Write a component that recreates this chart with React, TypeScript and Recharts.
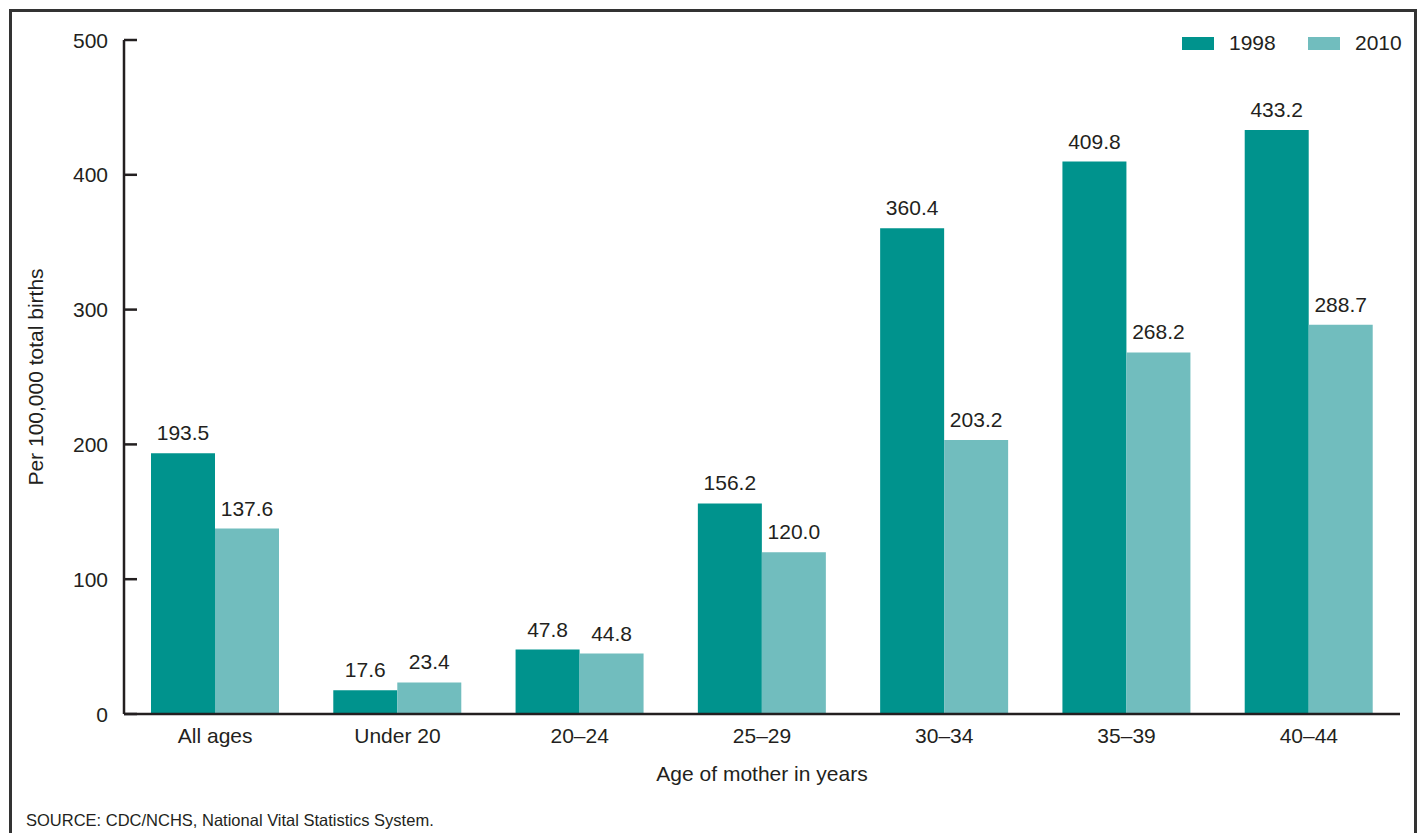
import React from "react";
import { BarChart, Bar, XAxis, YAxis, LabelList, Legend, Label } from "recharts";

const categories = ["All ages", "Under 20", "20–24", "25–29", "30–34", "35–39", "40–44"];
const values1998 = [193.5, 17.6, 47.8, 156.2, 360.4, 409.8, 433.2];
const values2010 = [137.6, 23.4, 44.8, 120.0, 203.2, 268.2, 288.7];
const seriesNames = ["1998", "2010"];
const seriesColors = ["#00938D", "#71BDBE"];
const yTicks = [0, 100, 200, 300, 400, 500];

const data = categories.map((c, i) => ({ cat: c, s1998: values1998[i], s2010: values2010[i] }));

const TEXT = "#231F20";
const FONT = "'Liberation Sans', Arial, Helvetica, sans-serif";

const YTick = (props: any) => {
  const { x, y, payload } = props;
  return (
    <g>
      <line x1={x} x2={x + 13} y1={y} y2={y} stroke={TEXT} strokeWidth={2.5} />
      <text x={x - 16} y={y} dy="0.36em" textAnchor="end" fontSize={21} fill={TEXT} fontFamily={FONT}>
        {payload.value}
      </text>
    </g>
  );
};

const LegendContent = () => (
  <div style={{ display: "flex", alignItems: "center", fontFamily: FONT, fontSize: 21, color: TEXT }}>
    {seriesNames.map((n, i) => (
      <div key={n} style={{ display: "flex", alignItems: "center", width: 126 }}>
        <div style={{ width: 32, height: 13, background: seriesColors[i], marginRight: 15 }} />
        <span style={{ lineHeight: "24px" }}>{n}</span>
      </div>
    ))}
  </div>
);

const fmt = (v: any) => Number(v).toFixed(1);

export default function App() {
  return (
    <div style={{ position: "absolute", left: 0, top: 0, width: 1419, height: 833, background: "#fff", overflow: "hidden", fontFamily: FONT }}>
      <div style={{ position: "absolute", left: 9, top: 9, width: 1402, height: 900, border: "3px solid #333" }} />
      <div style={{ position: "absolute", left: 0, top: 0 }}>
        <BarChart
          width={1419}
          height={833}
          data={data}
          margin={{ top: 40, right: 19, bottom: 89, left: 64 }}
          barCategoryGap={27}
          barGap={0}
        >
          <XAxis
            dataKey="cat"
            axisLine={{ stroke: TEXT, strokeWidth: 2.5 }}
            tickLine={false}
            tickSize={0}
            tickMargin={14}
            tick={{ fontSize: 21, fill: TEXT, fontFamily: FONT }}
            height={30}
          >
            <Label
              value="Age of mother in years"
              position="bottom"
              offset={22}
              style={{ fontSize: 21, fill: TEXT, fontFamily: FONT }}
            />
          </XAxis>
          <YAxis
            domain={[0, 500]}
            ticks={yTicks}
            width={60}
            axisLine={{ stroke: TEXT, strokeWidth: 2.5 }}
            tickLine={false}
            tickSize={0}
            tickMargin={0}
            tick={<YTick />}
            interval={0}
          >
            <Label
              content={() => (
                <text
                  x={0}
                  y={0}
                  transform="translate(43, 377) rotate(-90)"
                  textAnchor="middle"
                  fontSize={21}
                  fill={TEXT}
                  fontFamily={FONT}
                >
                  Per 100,000 total births
                </text>
              )}
            />
          </YAxis>
          <Legend
            layout="horizontal"
            align="center"
            verticalAlign="middle"
            wrapperStyle={{ top: 31, left: 1182, width: 260, height: 26 }}
            content={<LegendContent />}
          />
          <Bar dataKey="s1998" name={seriesNames[0]} fill={seriesColors[0]} isAnimationActive={false}>
            <LabelList dataKey="s1998" position="top" offset={13} formatter={fmt} style={{ fontSize: 21, fill: TEXT, fontFamily: FONT }} />
          </Bar>
          <Bar dataKey="s2010" name={seriesNames[1]} fill={seriesColors[1]} isAnimationActive={false}>
            <LabelList dataKey="s2010" position="top" offset={13} formatter={fmt} style={{ fontSize: 21, fill: TEXT, fontFamily: FONT }} />
          </Bar>
        </BarChart>
      </div>
      <div style={{ position: "absolute", left: 26, top: 810, fontSize: 16.5, color: TEXT, fontFamily: FONT, lineHeight: "20px", whiteSpace: "nowrap" }}>
        SOURCE: CDC/NCHS, National Vital Statistics System.
      </div>
    </div>
  );
}
